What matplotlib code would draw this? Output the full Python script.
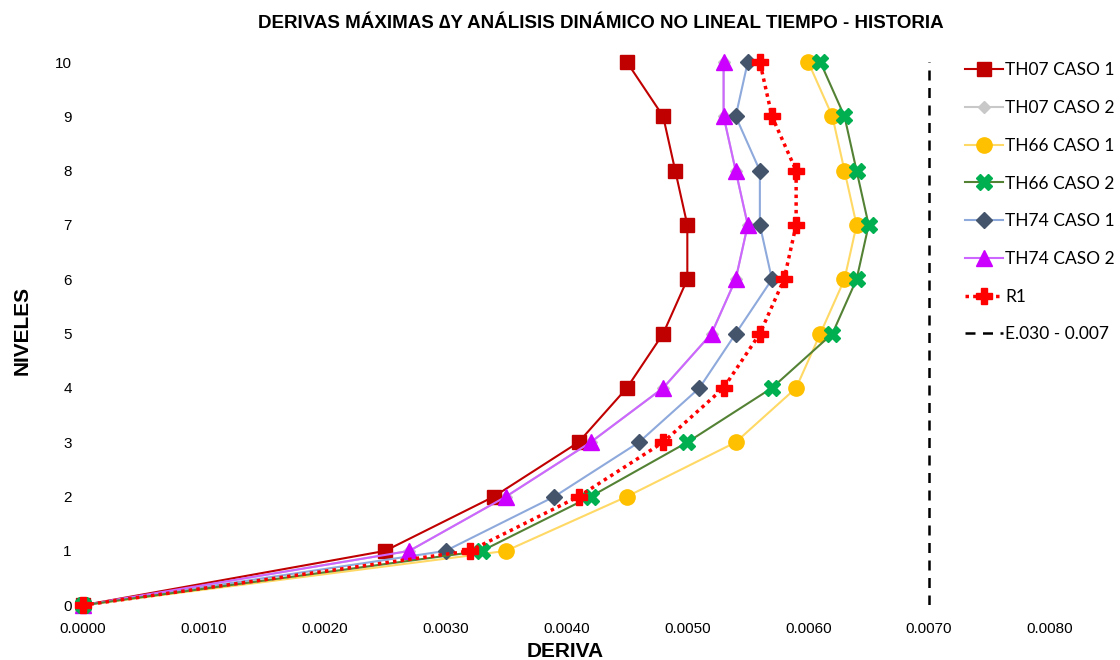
import matplotlib.pyplot as plt

niveles = [0, 1, 2, 3, 4, 5, 6, 7, 8, 9, 10]
th07_c1 = [0, 0.0025, 0.0034, 0.0041, 0.0045, 0.0048, 0.0050, 0.0050, 0.0049, 0.0048, 0.0045]
th07_c2 = [0, 0.0027, 0.0035, 0.0042, 0.0048, 0.0052, 0.0054, 0.0055, 0.0054, 0.0053, 0.0053]
th66_c1 = [0, 0.0035, 0.0045, 0.0054, 0.0059, 0.0061, 0.0063, 0.0064, 0.0063, 0.0062, 0.0060]
th66_c2 = [0, 0.0033, 0.0042, 0.0050, 0.0057, 0.0062, 0.0064, 0.0065, 0.0064, 0.0063, 0.0061]
th74_c1 = [0, 0.0030, 0.0039, 0.0046, 0.0051, 0.0054, 0.0057, 0.0056, 0.0056, 0.0054, 0.0055]
th74_c2 = [0, 0.0027, 0.0035, 0.0042, 0.0048, 0.0052, 0.0054, 0.0055, 0.0054, 0.0053, 0.0053]
r1 = [0, 0.0032, 0.0041, 0.0048, 0.0053, 0.0056, 0.0058, 0.0059, 0.0059, 0.0057, 0.0056]
limite = 0.007
xticks = [0, 0.001, 0.002, 0.003, 0.004, 0.005, 0.006, 0.007, 0.008]

narrow = ['Liberation Sans', 'DejaVu Sans']

fig = plt.figure(figsize=(11.2, 6.6), dpi=100)
ax = fig.add_axes([0.074, 0.083, 0.8635, 0.823])

ax.plot(th07_c1, niveles, color='#C00000', lw=1.5, marker='s', ms=10,
        label='TH07 CASO 1', clip_on=False, zorder=3)
ax.plot(th07_c2, niveles, color='#C8C8C8', lw=1.5, marker='D', ms=6,
        label='TH07 CASO 2', clip_on=False, zorder=2)
ax.plot(th66_c1, niveles, color='#FFD966', lw=1.5, marker='o', ms=11,
        mfc='#FFC000', mec='#FFC000', label='TH66 CASO 1', clip_on=False, zorder=3)
ax.plot(th66_c2, niveles, color='#548235', lw=1.5, marker='X', ms=12,
        mfc='#00B050', mec='#00B050', label='TH66 CASO 2', clip_on=False, zorder=4)
ax.plot(th74_c1, niveles, color='#8EA9DB', lw=1.5, marker='D', ms=8,
        mfc='#44546A', mec='#44546A', label='TH74 CASO 1', clip_on=False, zorder=3)
ax.plot(th74_c2, niveles, color='#CC66FF', lw=1.5, marker='^', ms=12,
        mfc='#CC00FF', mec='#CC00FF', label='TH74 CASO 2', clip_on=False, zorder=3)
ax.plot(r1, niveles, color='#FF0000', lw=2.5, ls=(0, (1, 1.2)), marker='P', ms=12,
        label='R1', clip_on=False, zorder=5)
ax.axvline(limite, color='black', lw=1.8, ls=(0, (4, 3)), label='E.030 - 0.007')

ax.set_xlim(0, 0.008)
ax.set_ylim(0, 10)
ax.set_xticks(xticks)
ax.set_xticklabels([f'{v:.4f}' for v in xticks], family=narrow, fontsize=11)
ax.set_yticks(niveles)
ax.set_yticklabels([str(n) for n in niveles], family=narrow, fontsize=11)
ax.tick_params(axis='x', length=0, pad=12)
ax.tick_params(axis='y', length=0, pad=8)
for s in ax.spines.values():
    s.set_visible(False)

fig.text(0.505, 0.0136, 'DERIVA', ha='center', va='center', family=narrow,
         fontsize=15, fontweight='bold')
fig.text(0.02, 0.5, 'NIVELES', ha='center', va='center', rotation=90,
         family=narrow, fontsize=15, fontweight='bold')
fig.text(0.536, 0.965, 'DERIVAS MÁXIMAS ∆Y ANÁLISIS DINÁMICO NO LINEAL TIEMPO - HISTORIA',
         ha='center', va='center', family=narrow, fontsize=13.5, fontweight='bold')

leg = ax.legend(loc='upper left', bbox_to_anchor=(0.896, 1.028), frameon=False,
                prop={'family': 'Lato', 'size': 12.5}, labelspacing=1.25,
                handlelength=2.2, handletextpad=0.1)

fig.savefig('out.png', dpi=100)
